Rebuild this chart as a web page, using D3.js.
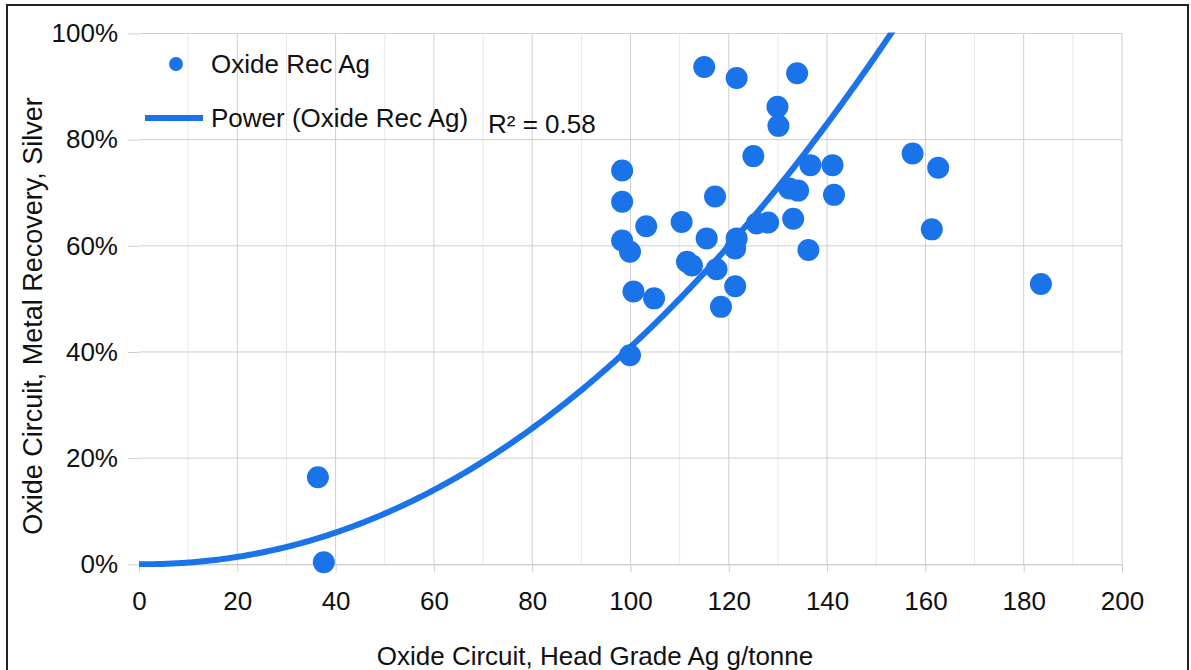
<!DOCTYPE html>
<html>

<head>
  <meta charset="utf-8">
  <title>Oxide Circuit Silver Recovery</title>
  <style>
    body {
      margin: 0;
      background: #fff;
      font-family: "Liberation Sans", Arial, sans-serif;
    }

    svg text {
      fill: #111;
    }

    .grid-major {
      stroke: #cfcfcf;
      stroke-width: 1px;
    }

    .grid-minor {
      stroke: #e8e8e8;
      stroke-width: 1px;
    }
  </style>
</head>

<body>
  <svg class="chart" width="1191" height="670"></svg>

  <script src="https://d3js.org/d3.v7.min.js"></script>
  <script>
    // head grade (g/t) and recovery (fraction)
    var headGrade = [
      36.4, 37.6, 98.3, 98.3, 98.3, 99.9, 99.9, 100.6, 104.8, 103.2,
      110.4, 111.5, 112.5, 115.0, 115.5, 117.2, 117.5, 118.4, 121.3, 121.3,
      121.6, 121.6, 125.0, 125.7, 128.0, 129.9, 130.1, 132.3, 133.1, 133.9,
      134.1, 136.2, 136.6, 141.1, 141.4, 157.4, 161.3, 162.6, 183.5
    ];
    var recovery = [
      0.164, 0.004, 0.742, 0.683, 0.610, 0.589, 0.394, 0.514, 0.501, 0.637,
      0.645, 0.570, 0.563, 0.937, 0.614, 0.693, 0.556, 0.485, 0.524, 0.595,
      0.614, 0.916, 0.769, 0.642, 0.644, 0.862, 0.826, 0.708, 0.651, 0.925,
      0.704, 0.592, 0.752, 0.752, 0.696, 0.774, 0.631, 0.747, 0.528
    ];

    // power trendline y = a * x^b as shown on the chart
    var trendExponent = 2.1;
    var trendCoefficient = 1 / Math.pow(153, trendExponent);
    var rSquaredLabel = 'R² = 0.58';

    var xTicks = [0, 20, 40, 60, 80, 100, 120, 140, 160, 180, 200];
    var xMinorTicks = [10, 30, 50, 70, 90, 110, 130, 150, 170, 190];
    var yTicks = [0, 0.2, 0.4, 0.6, 0.8, 1.0];

    var seriesName = 'Oxide Rec Ag';
    var trendName = 'Power (Oxide Rec Ag)';
    var xTitle = 'Oxide Circuit, Head Grade Ag g/tonne';
    var yTitle = 'Oxide Circuit, Metal Recovery, Silver';

    var blue = '#1a73e8';
    var fontFamily = '"Liberation Sans", Arial, sans-serif';

    var svg = d3.select('svg.chart');

    var x = d3.scaleLinear().domain([0, 200]).range([139, 1122]);
    var y = d3.scaleLinear().domain([0, 1]).range([564.3, 33.5]);

    // outer frame
    svg.append('rect')
      .attr('x', 7).attr('y', 5)
      .attr('width', 1181).attr('height', 700)
      .attr('fill', 'none')
      .attr('stroke', '#222')
      .attr('stroke-width', 2);

    // grid
    svg.append('g').selectAll('line')
      .data(xMinorTicks)
      .enter().append('line')
      .classed('grid-minor', true)
      .attr('x1', function(d) { return x(d); })
      .attr('x2', function(d) { return x(d); })
      .attr('y1', y(1)).attr('y2', y(0));

    svg.append('g').selectAll('line')
      .data(xTicks.slice(1))
      .enter().append('line')
      .classed('grid-major', true)
      .attr('x1', function(d) { return x(d); })
      .attr('x2', function(d) { return x(d); })
      .attr('y1', y(1)).attr('y2', y(0));

    svg.append('g').selectAll('line')
      .data(yTicks.slice(1))
      .enter().append('line')
      .classed('grid-major', true)
      .attr('x1', x(0)).attr('x2', x(200))
      .attr('y1', function(d) { return y(d); })
      .attr('y2', function(d) { return y(d); });

    // axes
    var xAxis = d3.axisBottom(x).tickValues(xTicks).tickSize(8).tickPadding(19);
    var xg = svg.append('g')
      .attr('transform', 'translate(0,' + y(0) + ')')
      .call(xAxis);
    xg.select('.domain').attr('stroke', '#bdbdbd');
    xg.selectAll('.tick line').attr('stroke', '#cfcfcf');
    xg.selectAll('.tick text')
      .style('font-size', '26px')
      .style('font-family', fontFamily)
      .attr('fill', '#111');

    var yAxis = d3.axisLeft(y).tickValues(yTicks).tickSize(11).tickPadding(10)
      .tickFormat(d3.format('.0%'));
    var yg = svg.append('g')
      .attr('transform', 'translate(' + x(0) + ',0)')
      .call(yAxis);
    yg.select('.domain').remove();
    yg.selectAll('.tick line').attr('stroke', '#cfcfcf');
    yg.selectAll('.tick text')
      .style('font-size', '26px')
      .style('font-family', fontFamily)
      .attr('fill', '#111');

    // clip for the trendline
    svg.append('clipPath').attr('id', 'plot-clip')
      .append('rect')
      .attr('x', x(0)).attr('y', y(1) - 1)
      .attr('width', x(200) - x(0)).attr('height', y(0) - y(1) + 4);

    var trendX = d3.range(0, 200.01, 0.5);
    var trendLine = d3.line()
      .x(function(d) { return x(d); })
      .y(function(d) { return y(trendCoefficient * Math.pow(d, trendExponent)); });

    svg.append('path')
      .datum(trendX)
      .attr('d', trendLine)
      .attr('clip-path', 'url(#plot-clip)')
      .attr('fill', 'none')
      .attr('stroke', blue)
      .attr('stroke-width', 6)
      .attr('stroke-linecap', 'round');

    // points
    svg.append('g').selectAll('circle')
      .data(headGrade)
      .enter().append('circle')
      .attr('cx', function(d) { return x(d); })
      .attr('cy', function(d, i) { return y(recovery[i]); })
      .attr('r', 11)
      .attr('fill', blue);

    // legend
    var legend = svg.append('g');
    legend.append('circle')
      .attr('cx', 176).attr('cy', 64).attr('r', 7)
      .attr('fill', blue);
    legend.append('text')
      .attr('x', 211).attr('y', 73)
      .style('font-size', '26px')
      .text(seriesName);
    legend.append('line')
      .attr('x1', 145).attr('x2', 203)
      .attr('y1', 118).attr('y2', 118)
      .attr('stroke', blue)
      .attr('stroke-width', 6);
    legend.append('text')
      .attr('x', 211).attr('y', 127)
      .style('font-size', '26px')
      .text(trendName);
    legend.append('text')
      .attr('x', 488).attr('y', 133)
      .style('font-size', '26px')
      .text(rSquaredLabel);

    // axis titles
    svg.append('text')
      .attr('x', 595)
      .attr('y', 665)
      .attr('text-anchor', 'middle')
      .style('font-size', '26px')
      .text(xTitle);

    svg.append('text')
      .attr('transform', 'translate(42,316) rotate(-90)')
      .attr('text-anchor', 'middle')
      .style('font-size', '27px')
      .text(yTitle);
  </script>
</body>

</html>
